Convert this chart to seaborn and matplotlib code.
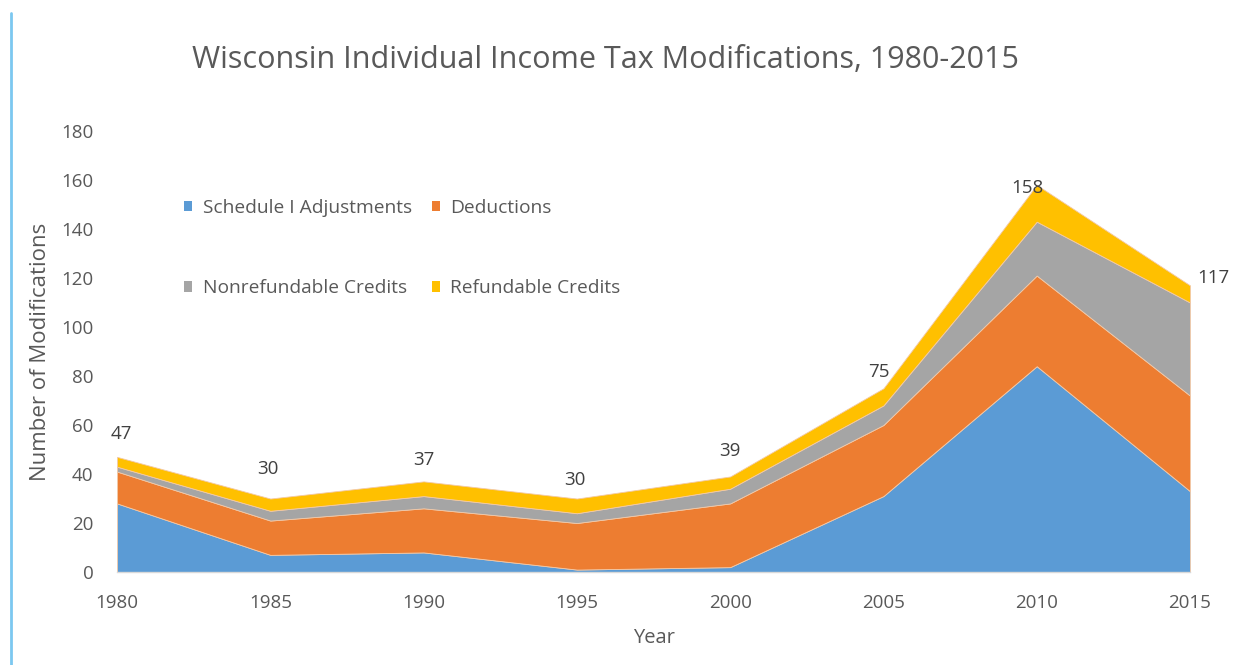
import matplotlib
matplotlib.use("Agg")
import matplotlib.pyplot as plt
from matplotlib.lines import Line2D
from matplotlib.patches import Patch
import numpy as np
import seaborn as sns

years = [1980, 1985, 1990, 1995, 2000, 2005, 2010, 2015]
schedule_adjustments = [28, 7, 8, 1, 2, 31, 84, 33]
deductions = [13, 14, 18, 19, 26, 29, 37, 39]
nonrefundable_credits = [2, 4, 5, 4, 6, 8, 22, 38]
refundable_credits = [4, 5, 6, 6, 5, 7, 15, 7]
series_names = ["Schedule I Adjustments", "Deductions",
                "Nonrefundable Credits", "Refundable Credits"]

sns.set_theme(style="white")
plt.rcParams["font.family"] = ["Open Sans", "DejaVu Sans"]

colors = ["#5B9BD5", "#ED7D31", "#A5A5A5", "#FFC000"]
text_gray = "#595959"

fig = plt.figure(figsize=(12.36, 6.65), dpi=100)
ax = fig.add_axes([0.0947, 0.1398, 0.8681, 0.6632])

layers = [schedule_adjustments, deductions, nonrefundable_credits, refundable_credits]
ax.stackplot(years, *layers, colors=colors, edgecolor="#f2c9a8", linewidth=0.6)

totals = np.sum(np.array(layers), axis=0)

# label offsets in points (dx, dy) from the top of each stack to the label centre
offsets = [(3, 16.5), (-1.5, 21), (0, 15.5), (-1.5, 13.5), (0, 18), (-3.6, 11.5),
           (-6.5, -2), (16.5, 5.5)]
for x, t, (dx, dy) in zip(years, totals, offsets):
    ax.annotate(f"{t}", xy=(x, t), xytext=(dx, dy), textcoords="offset points",
                ha="center", va="center", fontsize=13.5, color="#404040")

ax.set_xlim(1980, 2015)
ax.set_ylim(0, 180)
ax.set_xticks(years)
ax.set_yticks(range(0, 181, 20))
ax.tick_params(axis="x", labelsize=13.5, colors=text_gray, length=0, pad=15.5)
ax.tick_params(axis="y", labelsize=13.5, colors=text_gray, length=0, pad=17)
for side in ["top", "right", "left"]:
    ax.spines[side].set_visible(False)
ax.spines["bottom"].set_color("#D9D9D9")
ax.spines["bottom"].set_linewidth(1)
ax.grid(False)

ax.set_xlabel("Year", fontsize=14.5, color=text_gray, labelpad=12)
ax.set_ylabel("Number of Modifications", fontsize=16, color=text_gray, labelpad=7)

fig.text(0.49, 0.91, "Wisconsin Individual Income Tax Modifications, 1980-2015",
         ha="center", va="center", fontsize=22, color="#595959")

handles = [Patch(facecolor=c, edgecolor="none") for c in colors]
order = [0, 2, 1, 3]
ax.legend([handles[i] for i in order], [series_names[i] for i in order],
          ncol=2, loc="upper left", bbox_to_anchor=(0.0535, 0.868), frameon=False,
          fontsize=13.8, labelcolor=text_gray, handlelength=0.42, handleheight=0.5,
          handletextpad=0.55, labelspacing=3.25, columnspacing=1.05, borderpad=0)

fig.add_artist(Line2D([0.0085, 0.0085], [0.0, 0.98], color="#7CC8F0", linewidth=2,
                      transform=fig.transFigure))

fig.savefig("out.png", dpi=100, facecolor="white")
